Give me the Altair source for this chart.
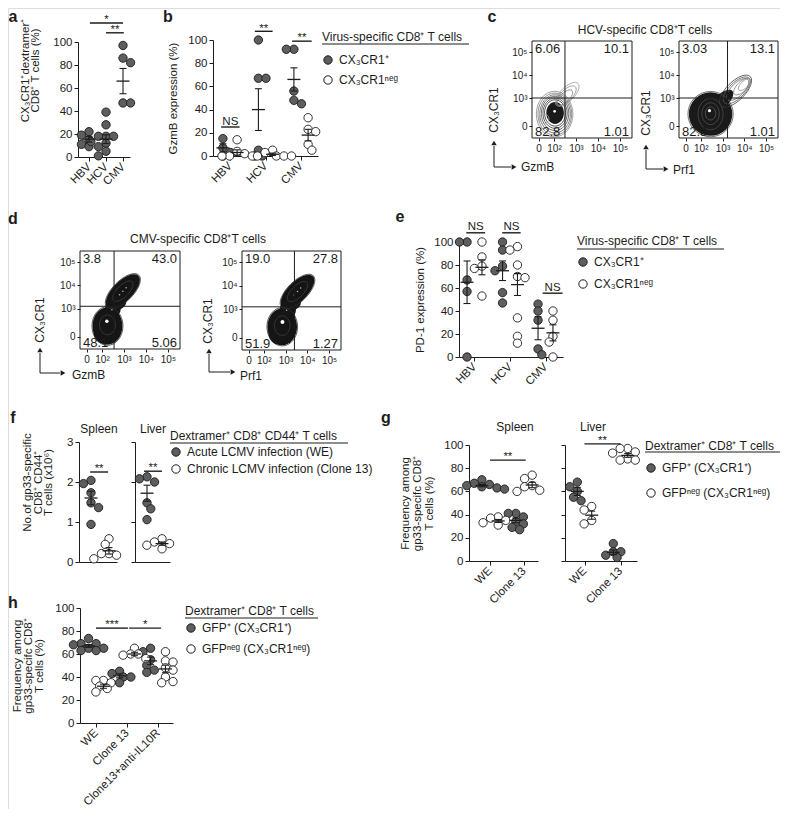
import math
import altair as alt
import pandas as pd

FONT = "Liberation Sans"
INK = "#1c1c1c"
DARK = "#5e5e5e"
W, H, M = 772, 801, 8

# ------------------------------------------------------------------ data
virus = ["HBV", "HCV", "CMV"]
lcmv2 = ["WE", "Clone 13"]
lcmv3 = ["WE", "Clone 13", "Clone13+anti-IL10R"]

# a
a_pos = [[22, 19, 15, 11, 9], [39, 28, 18, 18, 18, 13.5, 12, 9, 5, 1], [97, 86, 82, 47, 47]]
a_mean = [15.5, 15.5, 66]
a_sem = [2.5, 3.8, 11]

# b
b_pos = [[15, 7, 3, 0], [100, 67, 67, 5, 0, 0], [92, 92, 56, 48, 45]]
b_neg = [[14, 4, 2, 0, 0, 0], [5, 3, 0, 0, 0, 0], [33, 23, 21, 10, 5]]
b_pos_mean = [7, 40, 66]
b_pos_sem = [3.5, 18, 10]
b_neg_mean = [3, 1.5, 18]
b_neg_sem = [2.3, 1, 5]

# e
e_pos = [[100, 100, 67, 57, 0], [100, 93, 79, 75, 56, 47], [46, 40, 32, 7, 2]]
e_neg = [[100, 87, 79, 77, 53], [96, 93, 80, 70, 69, 34, 18, 12], [40, 32, 18, 13, 0]]
e_pos_mean = [65, 75, 25]
e_pos_sem = [18.5, 8.5, 10]
e_neg_mean = [78, 63, 21]
e_neg_sem = [6.5, 9.5, 7]

# f  (x10^6 cells)
f_spleen_we = [2.04, 1.96, 1.73, 1.48, 1.36, 0.94]
f_spleen_c13 = [0.58, 0.44, 0.21, 0.17, 0.21, 0.08]
f_spleen_mean = [1.6, 0.28]
f_spleen_sem = [0.17, 0.08]
f_liver_we = [2.13, 2.08, 2.0, 1.48, 1.33, 1.06]
f_liver_c13 = [0.58, 0.5, 0.46, 0.42, 0.33]
f_liver_mean = [1.72, 0.46]
f_liver_sem = [0.2, 0.04]

# g
g_spleen_pos = [[70, 67, 66, 65, 64, 63, 62], [41, 41, 38, 34, 32, 29, 27]]
g_spleen_neg = [[38, 37, 35, 33, 31], [74, 71, 65, 64, 61, 60]]
g_spleen_pos_mean = [65, 35]
g_spleen_pos_sem = [1.0, 2.0]
g_spleen_neg_mean = [34.5, 65.5]
g_spleen_neg_sem = [1.3, 2.3]
g_liver_pos = [[68, 64, 60, 55, 52], [15, 8, 8, 5, 3]]
g_liver_neg = [[47, 44, 35, 32], [97, 97, 94, 93, 88, 87, 87]]
g_liver_pos_mean = [60, 7.5]
g_liver_pos_sem = [3.5, 2.0]
g_liver_neg_mean = [39.5, 91]
g_liver_neg_sem = [3.5, 1.6]

# h
h_pos = [[73.5, 69, 69, 68, 65, 65, 63, 63], [45, 43, 40, 40, 35], [65, 62, 55, 50, 46, 44]]
h_neg = [[37, 37, 35, 32, 30, 27], [65, 60, 60, 59, 56], [62, 54, 53, 48, 46, 40, 36, 35]]
h_pos_mean = [67, 41, 54]
h_pos_sem = [1.2, 1.7, 3.3]
h_neg_mean = [32, 60, 47]
h_neg_sem = [1.8, 1.5, 3.3]

# flow cytometry (biexponential display units: 2 = 10^2 ... 5 = 10^5)
flow_x_dom = [1.0, 5.55]
flow_y_dom = [1.26, 5.48]
flow_x_ticks = [1.3, 2, 3, 4, 5]
flow_x_text = ["0", "10²", "10³", "10⁴", "10⁵"]
flow_y_ticks = [1.78, 3, 4, 5]
flow_y_text = ["0", "10³", "10⁴", "10⁵"]
c_gzmb_quad = ["6.06", "10.1", "82.8", "1.01"]
c_prf1_quad = ["3.03", "13.1", "82.8", "1.01"]
d_gzmb_quad = ["3.8", "43.0", "48.1", "5.06"]
d_prf1_quad = ["19.0", "27.8", "51.9", "1.27"]
c_gzmb_gate = (2.5, 3.0)
c_prf1_gate = (3.23, 3.0)
d_gzmb_gate = (2.55, 3.1)
d_prf1_gate = (3.41, 3.1)

# density regions: filled cores and contour lines (x, y, size-radius, shade, outline form)
c_gzmb_cores = [
    (2.05, 2.35, 0.5, "#1a1a1a", "vert"), (2.03, 2.42, 0.06, "#ffffff", "circle"),
]
c_gzmb_lines = [
    (2.05, 2.35, 0.6, "#262626", "vert"), (2.05, 2.34, 0.69, "#363636", "vert"),
    (2.05, 2.33, 0.78, "#4a4a4a", "vert"), (2.05, 2.31, 0.87, "#5e5e5e", "vert"),
    (2.04, 2.3, 0.96, "#727272", "vert"), (2.03, 2.3, 1.04, "#8a8a8a", "vert"),
    (2.5, 3.02, 0.45, "#7a7a7a", "diag"), (2.56, 3.1, 0.58, "#8a8a8a", "diag"),
    (2.6, 3.16, 0.7, "#9c9c9c", "diag"), (1.55, 2.1, 0.22, "#a8a8a8", "circle"),
]
c_prf1_cores = [
    (2.45, 2.3, 1.0, "#1a1a1a", "circle"), (2.95, 2.85, 0.7, "#1a1a1a", "diag"),
    (2.4, 2.45, 0.07, "#ffffff", "circle"),
]
c_prf1_lines = [
    (2.45, 2.33, 0.3, "#5a5a5a", "vert"), (2.45, 2.32, 0.5, "#505050", "vert"),
    (2.45, 2.3, 0.72, "#4a4a4a", "vert"), (2.45, 2.3, 1.04, "#4a4a4a", "circle"),
    (3.6, 3.3, 0.95, "#3a3a3a", "diag"), (3.65, 3.33, 0.8, "#555555", "diag"),
    (3.7, 3.37, 0.65, "#666666", "diag"), (3.9, 3.5, 0.5, "#777777", "diag"),
    (4.0, 3.58, 0.35, "#888888", "diag"),
]
d_gzmb_cores = [
    (2.25, 2.25, 0.85, "#151515", "vert"), (2.12, 1.95, 0.5, "#151515", "circle"),
    (2.5, 3.0, 0.36, "#151515", "circle"), (2.95, 3.75, 1.0, "#151515", "diag"),
    (2.7, 3.35, 0.42, "#151515", "circle"), (2.22, 2.45, 0.08, "#ffffff", "circle"),
    (2.8, 3.6, 0.035, "#bbbbbb", "circle"), (2.95, 3.75, 0.035, "#bbbbbb", "circle"),
    (3.1, 3.9, 0.035, "#bbbbbb", "circle"), (2.45, 2.95, 0.035, "#bbbbbb", "circle"),
]
d_gzmb_lines = [
    (2.25, 2.25, 0.88, "#2e2e2e", "vert"), (2.95, 3.75, 1.03, "#2e2e2e", "diag"),
    (2.25, 2.3, 0.45, "#3c3c3c", "vert"), (2.95, 3.75, 0.6, "#3c3c3c", "diag"),
]
d_prf1_cores = [
    (2.85, 2.25, 0.85, "#151515", "vert"), (2.72, 1.95, 0.5, "#151515", "circle"),
    (3.1, 2.95, 0.38, "#151515", "circle"), (3.55, 3.75, 1.0, "#151515", "diag"),
    (3.3, 3.35, 0.42, "#151515", "circle"), (2.86, 2.45, 0.09, "#ffffff", "circle"),
    (3.4, 3.6, 0.035, "#bbbbbb", "circle"), (3.55, 3.75, 0.035, "#bbbbbb", "circle"),
    (3.7, 3.9, 0.035, "#bbbbbb", "circle"), (3.05, 2.95, 0.035, "#bbbbbb", "circle"),
]
d_prf1_lines = [
    (2.85, 2.25, 0.88, "#2e2e2e", "vert"), (3.55, 3.75, 1.03, "#2e2e2e", "diag"),
    (2.85, 2.3, 0.45, "#3c3c3c", "vert"), (3.55, 3.75, 0.6, "#3c3c3c", "diag"),
]

CX_POS = "CX₃CR1⁺"
CX_NEG = "CX₃CR1ⁿᵉᵍ"
GFP_POS = "GFP⁺ (CX₃CR1⁺)"
GFP_NEG = "GFPⁿᵉᵍ (CX₃CR1ⁿᵉᵍ)"
ONE = pd.DataFrame({"k": [0]})


# ------------------------------------------------------------------ helpers
def ellipse_path(a, b, rot_deg, n=32):
    t = math.radians(rot_deg)
    pts = []
    for k in range(n):
        th = 2 * math.pi * k / n
        x, y = a * math.cos(th), b * math.sin(th)
        pts.append("%.3f,%.3f" % (x * math.cos(t) - y * math.sin(t), x * math.sin(t) + y * math.cos(t)))
    return "M" + " L".join(pts) + " Z"


FORMS = {"circle": "circle", "vert": ellipse_path(0.8, 1.0, 0), "diag": ellipse_path(1.0, 0.45, -45)}


def S(dom, rng):
    return alt.Scale(domain=list(dom), range=[rng[0] - M, rng[1] - M], nice=False, zero=False)


def swarm(vals, ppx, ppy, d=8.4, frac=0.78):
    placed, offs = [], [0.0] * len(vals)
    order = sorted(range(len(vals)), key=lambda i: -vals[i])
    step = d * 0.45
    for n, i in enumerate(order):
        yy = vals[i] * ppy
        k = 0
        found = None
        while found is None:
            cands = [0.0] if k == 0 else ([k * step, -k * step] if n % 2 == 0 else [-k * step, k * step])
            for c in cands:
                if all((c - px) ** 2 + (yy - py) ** 2 >= (frac * d) ** 2 for px, py in placed):
                    found = c
                    break
            k += 1
        placed.append((found, yy))
        offs[i] = found / ppx
    return offs


def note(text, x, y, size=12, align="left", baseline="middle", angle=0, weight="normal"):
    kw = dict(text=text, fontSize=size, align=align, baseline=baseline, font=FONT,
              fontWeight=weight, color=INK)
    if angle:
        kw["angle"] = angle
    return alt.Chart(ONE).mark_text(**kw).encode(x=alt.value(x - M), y=alt.value(y - M))


def seg(x1, y1, x2, y2, w=1.0):
    return alt.Chart(ONE).mark_rule(color=INK, strokeWidth=w).encode(
        x=alt.value(x1 - M), y=alt.value(y1 - M), x2=alt.value(x2 - M), y2=alt.value(y2 - M))


def head(x, y, shape):
    return alt.Chart(ONE).mark_point(shape=shape, filled=True, size=30, color=INK, opacity=1).encode(
        x=alt.value(x - M), y=alt.value(y - M))


def y_axis(ax, values, title=None, labels=True, pad=8, lh=11, tsize=11.5, title_y=None):
    kw = dict(orient="left", offset=-(ax - M), values=values, grid=False, domainColor=INK,
              domainWidth=1, tickColor=INK, tickWidth=1, tickSize=4, labels=labels,
              labelFont=FONT, labelFontSize=11.5, labelColor=INK, labelPadding=2)
    if title:
        kw.update(title=title, titleFont=FONT, titleFontSize=tsize, titleFontWeight="normal",
                  titleColor=INK, titlePadding=pad, titleLineHeight=lh)
        if title_y is not None:
            kw["titleY"] = title_y - M
    else:
        kw["title"] = None
    return alt.Axis(**kw)


def x_axis(ay, cats, labels=True):
    kw = dict(orient="bottom", offset=(ay - M) - H, grid=False, domainColor=INK, domainWidth=1,
              title=None)
    if labels:
        expr = "[" + ",".join("'%s'" % c for c in cats) + "][datum.value]"
        kw.update(values=list(range(len(cats))), labelExpr=expr, labelAngle=315,
                  labelAlign="right", labelBaseline="middle", labelFont=FONT,
                  labelFontSize=11.5, labelColor=INK, labelPadding=4, tickSize=4,
                  tickColor=INK, tickWidth=1, labelOverlap=False, labelBound=False)
    else:
        kw.update(labels=False, ticks=False)
    return alt.Axis(**kw)


def legend(title, lx, ly, row_pad, title_pad):
    return alt.Legend(orient="none", legendX=lx - M, legendY=ly - M, direction="vertical",
                      title=title, titleFont=FONT, titleFontSize=12, titleFontWeight="normal",
                      titleColor=INK, titlePadding=title_pad, titleLimit=400, titleAnchor="start",
                      labelFont=FONT, labelFontSize=12, labelColor=INK, labelLimit=400,
                      labelOffset=5, rowPadding=row_pad, symbolType="circle", symbolSize=70,
                      symbolStrokeColor=INK, symbolStrokeWidth=1, symbolOpacity=1, padding=0)


def dot_panel(cats, series, c0, ppu, xl, xr, y0, ytop, ymax, yticks, ytitle=None,
              ylabels=True, xlabels=True, leg=None, sigs=(), pad=8, lh=11, title_y=None):
    xs = S([(xl - c0) / ppu, (xr - c0) / ppu], (xl, xr))
    ys = S([0, ymax], (y0, ytop))
    ppy = (y0 - ytop) / ymax
    rows, err = [], []
    for s in series:
        for i, vals in enumerate(s["vals"]):
            for v, o in zip(vals, swarm(vals, ppu, ppy)):
                rows.append({"x": i + s["off"] + o, "y": v, "s": s["name"]})
            m, e = s["mean"][i], s["sem"][i]
            err.append({"x": i + s["off"], "m": m, "lo": m - e, "hi": m + e})
    pts, err = pd.DataFrame(rows), pd.DataFrame(err)
    fill_scale = alt.Scale(domain=[s["name"] for s in series], range=[s["fill"] for s in series])
    out = []
    out.append(alt.Chart(pts).mark_circle(size=70, opacity=1, stroke=INK, strokeWidth=0.9).encode(
        x=alt.X("x:Q", scale=xs, axis=x_axis(y0, cats, xlabels)),
        y=alt.Y("y:Q", scale=ys, axis=y_axis(xl, yticks, ytitle, ylabels, pad, lh, title_y=title_y)),
        fill=alt.Fill("s:N", scale=fill_scale, legend=leg)))
    X = alt.X("x:Q", scale=xs, axis=None)
    out.append(alt.Chart(err).mark_rule(color=INK, strokeWidth=1.1).encode(
        x=X, y=alt.Y("lo:Q", scale=ys, axis=None), y2="hi:Q"))
    out.append(alt.Chart(err).mark_tick(orient="horizontal", size=13, thickness=1.3, color=INK,
                                        opacity=1).encode(
        x=X, y=alt.Y("m:Q", scale=ys, axis=None)))
    out.append(alt.Chart(err).transform_fold(["lo", "hi"], as_=["k", "v"]).mark_tick(
        orient="horizontal", size=7, thickness=1.1, color=INK, opacity=1).encode(
        x=X, y=alt.Y("v:Q", scale=ys, axis=None)))
    if sigs:
        sg = pd.DataFrame([{"x1": a, "x2": b, "y": yv, "xm": (a + b) / 2, "t": t,
                            "ty": yv + (5.5 if t == "NS" else 2.8) / ppy}
                           for a, b, yv, t in sigs])
        out.append(alt.Chart(sg).mark_rule(color=INK, strokeWidth=1.4).encode(
            x=alt.X("x1:Q", scale=xs, axis=None), x2="x2:Q", y=alt.Y("y:Q", scale=ys, axis=None)))
        out.append(alt.Chart(sg).mark_text(font=FONT, fontSize=11.5, color=INK,
                                           baseline="middle").encode(
            x=alt.X("xm:Q", scale=xs, axis=None), y=alt.Y("ty:Q", scale=ys, axis=None), text="t:N"))
    return out


def flow_panel(L, T, R, B, gate, quads, cores, lines):
    xs, ys = S(flow_x_dom, (L, R)), S(flow_y_dom, (B, T))
    xpx = (R - L) / (flow_x_dom[1] - flow_x_dom[0])
    X = lambda f: alt.X(f, scale=xs, axis=None)
    Y = lambda f: alt.Y(f, scale=ys, axis=None)

    def blobs(items):
        return pd.DataFrame([{"x": cx, "y": cy, "sz": (2 * r * xpx) ** 2, "col": col,
                              "shp": FORMS[form]} for cx, cy, r, col, form in items])
    out = [
        alt.Chart(blobs(cores)).mark_point(filled=True, strokeWidth=0, opacity=1).encode(
            x=X("x:Q"), y=Y("y:Q"), size=alt.Size("sz:Q", scale=None),
            shape=alt.Shape("shp:N", scale=None), fill=alt.Fill("col:N", scale=None)),
        alt.Chart(blobs(lines)).mark_point(filled=False, strokeWidth=0.8, opacity=1).encode(
            x=X("x:Q"), y=Y("y:Q"), size=alt.Size("sz:Q", scale=None),
            shape=alt.Shape("shp:N", scale=None), stroke=alt.Stroke("col:N", scale=None)),
    ]
    gx, gy = gate
    out.append(alt.Chart(pd.DataFrame({"x": [gx], "y1": [flow_y_dom[0]], "y2": [flow_y_dom[1]]}))
               .mark_rule(color=INK, strokeWidth=1).encode(x=X("x:Q"), y=Y("y1:Q"), y2="y2:Q"))
    out.append(alt.Chart(pd.DataFrame({"y": [gy], "x1": [flow_x_dom[0]], "x2": [flow_x_dom[1]]}))
               .mark_rule(color=INK, strokeWidth=1).encode(y=Y("y:Q"), x=X("x1:Q"), x2="x2:Q"))
    xexpr = " : ".join("datum.value < %s ? '%s'" % (v + 0.4, t)
                       for v, t in zip(flow_x_ticks[:-1], flow_x_text[:-1])) + " : '%s'" % flow_x_text[-1]
    yexpr = " : ".join("datum.value < %s ? '%s'" % (v + 0.4, t)
                       for v, t in zip(flow_y_ticks[:-1], flow_y_text[:-1])) + " : '%s'" % flow_y_text[-1]
    xa = alt.Axis(orient="bottom", offset=(B - M) - H, values=flow_x_ticks, labelExpr=xexpr,
                  domain=False, grid=False, tickSize=3, tickColor=INK, labelFont=FONT,
                  labelFontSize=10, labelColor=INK, labelPadding=2, title=None,
                  labelOverlap=False)
    ya = alt.Axis(orient="left", offset=-(L - M), values=flow_y_ticks, labelExpr=yexpr,
                  domain=False, grid=False, tickSize=3, tickColor=INK, labelFont=FONT,
                  labelFontSize=10, labelColor=INK, labelPadding=2, title=None,
                  labelOverlap=False)
    frame = pd.DataFrame({"x1": [flow_x_dom[0]], "x2": [flow_x_dom[1]],
                          "y1": [flow_y_dom[0]], "y2": [flow_y_dom[1]]})
    out.append(alt.Chart(frame).mark_rect(fillOpacity=0, stroke=INK, strokeWidth=1).encode(
        x=alt.X("x1:Q", scale=xs, axis=xa), x2="x2:Q",
        y=alt.Y("y1:Q", scale=ys, axis=ya), y2="y2:Q"))
    spots = [(flow_x_dom[0], flow_y_dom[1], "left", "top", 3, 2),
             (flow_x_dom[1], flow_y_dom[1], "right", "top", -3, 2),
             (flow_x_dom[0], flow_y_dom[0], "left", "bottom", 3, 1),
             (flow_x_dom[1], flow_y_dom[0], "right", "bottom", -3, 1)]
    for (x, y, al, bl, dx, dy), q in zip(spots, quads):
        out.append(alt.Chart(pd.DataFrame({"x": [x], "y": [y], "t": [q]})).mark_text(
            font=FONT, fontSize=13, color=INK, align=al, baseline=bl, dx=dx, dy=dy).encode(
            x=X("x:Q"), y=Y("y:Q"), text="t:N"))
    return out


def arrows(x, ybot, ytop, xright):
    return [seg(x, ybot, x, ytop + 3), seg(x, ybot, xright - 3, ybot),
            head(x, ytop, "triangle-up"), head(xright, ybot, "triangle-right")]


def ser(name, vals, mean, sem, fill, off):
    return {"name": name, "vals": vals, "mean": mean, "sem": sem, "fill": fill, "off": off}


# ------------------------------------------------------------------ build
L = []

# panel letters
for t, x, y in [("a", 13, 9), ("b", 168, 9), ("c", 492, 9)]:
    L.append(note(t, x, y, size=16, align="center", baseline="top", weight="bold"))
for t, x, y in [("d", 13, 219), ("e", 400, 217), ("f", 13, 418), ("g", 386, 418), ("h", 13, 603)]:
    L.append(note(t, x, y, size=16, align="center", weight="bold"))

# a
L += dot_panel(virus, [ser("a", a_pos, a_mean, a_sem, DARK, 0)], 89, 17, 78, 130, 157, 42, 100,
               [0, 20, 40, 60, 80, 100], ["CX₃CR1⁺dextramer⁺", "CD8⁺ T cells (%)"],
               sigs=[(0.05, 2.0, 116.5, "*"), (1.0, 2.05, 108, "**")], pad=12, lh=10.5,
               title_y=70)

# b
L += dot_panel(virus, [ser(CX_POS, b_pos, b_pos_mean, b_pos_sem, DARK, -0.2),
                       ser(CX_NEG, b_neg, b_neg_mean, b_neg_sem, "white", 0.2)],
               230, 35.5, 213, 318, 156, 40, 100, [0, 20, 40, 60, 80, 100], "GzmB expression (%)",
               leg=legend("Virus-specific CD8⁺ T cells", 322, 32, 6, 10),
               sigs=[(-0.25, 0.27, 25, "NS"), (0.7, 1.2, 107.5, "**"), (1.75, 2.3, 99, "**")], pad=9)
L.append(seg(322, 44, 469, 44))

# c
L.append(note("HCV-specific CD8⁺T cells", 645, 30, align="center"))
L += flow_panel(532, 41, 632, 138, c_gzmb_gate, c_gzmb_quad, c_gzmb_cores, c_gzmb_lines)
L += flow_panel(679, 41, 778, 138, c_prf1_gate, c_prf1_quad, c_prf1_cores, c_prf1_lines)
L.append(note("CX₃CR1", 494, 110, angle=270, align="center"))
L.append(note("GzmB", 521, 167))
L += arrows(494, 167, 143, 514)
L.append(note("CX₃CR1", 646, 113, angle=270, align="center"))
L.append(note("Prf1", 673, 170))
L += arrows(646, 169, 147, 666)

# d
L.append(note("CMV-specific CD8⁺T cells", 198, 239, align="center"))
L += flow_panel(80, 251, 180, 349, d_gzmb_gate, d_gzmb_quad, d_gzmb_cores, d_gzmb_lines)
L += flow_panel(242, 251, 341, 350, d_prf1_gate, d_prf1_quad, d_prf1_cores, d_prf1_lines)
L.append(note("CX₃CR1", 40, 320, angle=270, align="center"))
L.append(note("GzmB", 72, 375))
L += arrows(40, 373, 350, 63)
L.append(note("CX₃CR1", 208, 321, angle=270, align="center"))
L.append(note("Prf1", 240, 376))
L += arrows(209, 372, 351, 233)

# e
L += dot_panel(virus, [ser(CX_POS, e_pos, e_pos_mean, e_pos_sem, DARK, -0.21),
                       ser(CX_NEG, e_neg, e_neg_mean, e_neg_sem, "white", 0.21)],
               474.5, 35.5, 459, 563, 357, 242, 100, [0, 20, 40, 60, 80, 100], "PD-1 expression (%)",
               leg=legend("Virus-specific CD8⁺ T cells", 577, 236, 8, 8),
               sigs=[(-0.23, 0.3, 108, "NS"), (0.78, 1.3, 108, "NS"), (1.92, 2.48, 55.5, "NS")], pad=8)
L.append(seg(577, 249, 724, 249))

# f
L.append(note("Spleen", 99, 429, align="center"))
L.append(note("Liver", 153, 429, align="center"))
L += dot_panel(["WE"], [ser("Acute LCMV infection (WE)", [f_spleen_we], f_spleen_mean[:1], f_spleen_sem[:1], DARK, 0),
                        ser("Chronic LCMV infection (Clone 13)", [f_spleen_c13], f_spleen_mean[1:], f_spleen_sem[1:], "white", 1)],
               91, 18, 79, 117, 562, 442, 3, [0, 1, 2, 3],
               ["No.of gp33-specific", "CD8⁺ CD44⁺", "T cells (x10⁶)"], xlabels=False,
               leg=legend("Dextramer⁺ CD8⁺ CD44⁺ T cells", 170, 431, 3, 3),
               sigs=[(-0.05, 0.95, 2.25, "**")], pad=13, lh=10.5, title_y=482)
L += dot_panel(["WE"], [ser("WE", [f_liver_we], f_liver_mean[:1], f_liver_sem[:1], DARK, 0),
                        ser("C13", [f_liver_c13], f_liver_mean[1:], f_liver_sem[1:], "white", 1)],
               147, 15, 135, 170, 562, 442, 3, [0, 1, 2, 3], ylabels=False, xlabels=False,
               sigs=[(-0.2, 1.0, 2.27, "**")])
L.append(seg(170, 443, 348, 443))

# g
L.append(note("Spleen", 515, 427, align="center"))
L.append(note("Liver", 593, 427, align="center"))
L += dot_panel(lcmv2, [ser(GFP_POS, g_spleen_pos, g_spleen_pos_mean, g_spleen_pos_sem, DARK, -0.24),
                       ser(GFP_NEG, g_spleen_neg, g_spleen_neg_mean, g_spleen_neg_sem, "white", 0.24)],
               490, 34, 469, 538, 561, 445, 100, [0, 20, 40, 60, 80, 100],
               ["Frequency among", "gp33-specifc CD8⁺", "T cells (%)"],
               leg=legend("Dextramer⁺ CD8⁺ T cells", 645, 441, 11, 9),
               sigs=[(0, 1.05, 87, "**")], pad=9, lh=12)
L += dot_panel(lcmv2, [ser("p", g_liver_pos, g_liver_pos_mean, g_liver_pos_sem, DARK, -0.2),
                       ser("n", g_liver_neg, g_liver_neg_mean, g_liver_neg_sem, "white", 0.2)],
               584.5, 36, 565, 637, 561, 445, 100, [0, 20, 40, 60, 80, 100], ylabels=False,
               sigs=[(0, 1.0, 101, "**")])
L.append(seg(645, 452, 780, 452))

# h
L += dot_panel(lcmv3, [ser(GFP_POS, h_pos, h_pos_mean, h_pos_sem, DARK, -0.24),
                       ser(GFP_NEG, h_neg, h_neg_mean, h_neg_sem, "white", 0.24)],
               96, 31, 80, 173, 723, 608, 100, [0, 20, 40, 60, 80, 100],
               ["Frequency among", "gp33-specifc CD8⁺", "T cells (%)"],
               leg=legend("Dextramer⁺ CD8⁺ T cells", 185, 606, 7, 4),
               sigs=[(0, 1.03, 82.5, "***"), (1.07, 2.1, 82.5, "*")], pad=10, lh=11)
L.append(seg(185, 618, 318, 618))

chart = (alt.layer(*L)
         .resolve_scale(x="independent", y="independent", fill="independent")
         .resolve_axis(x="independent", y="independent")
         .resolve_legend(fill="independent")
         .properties(width=W, height=H, padding=0, autosize=alt.AutoSizeParams(type="none"))
         .configure_view(stroke=None)
         .configure(font=FONT, background="white"))

chart.save("out.html", embed_options={"renderer": "svg", "actions": False})
